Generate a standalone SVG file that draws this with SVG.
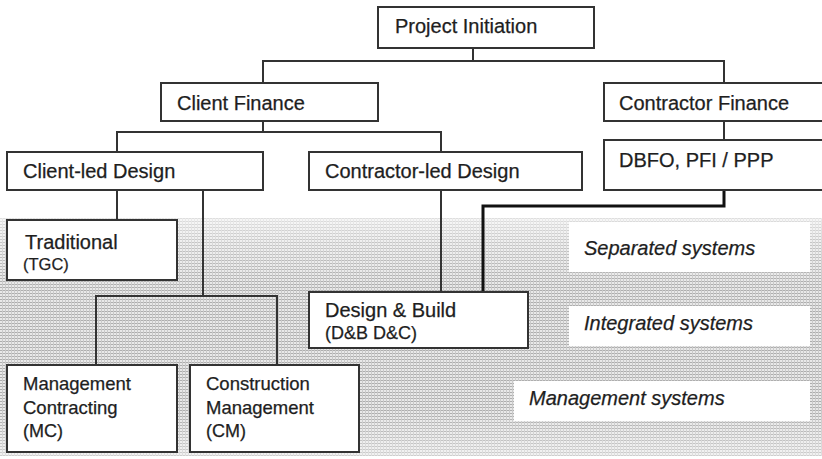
<svg xmlns="http://www.w3.org/2000/svg" width="822" height="459" viewBox="0 0 822 459">
  <defs>
    <!-- fine halftone screen used for the shaded band -->
    <pattern id="screen" width="3" height="3" patternUnits="userSpaceOnUse">
      <rect width="3" height="3" fill="#e9e9e9"/>
      <rect x="0" y="2" width="3" height="1" fill="#aeaeae"/>
      <rect x="2" y="0" width="1" height="3" fill="#cacaca"/>
    </pattern>
    <linearGradient id="fade" x1="0" y1="0" x2="0" y2="1">
      <stop offset="0" stop-color="#fff" stop-opacity="0.6"/>
      <stop offset="0.1" stop-color="#fff" stop-opacity="0.3"/>
      <stop offset="0.28" stop-color="#fff" stop-opacity="0"/>
      <stop offset="0.82" stop-color="#fff" stop-opacity="0"/>
      <stop offset="1" stop-color="#fff" stop-opacity="0.4"/>
    </linearGradient>
  </defs>
  <style>
    .box { fill: #fff; stroke: #333; stroke-width: 2; }
    .lbl { font-family: "Liberation Sans", Arial, sans-serif; font-size: 20px; fill: #1e1e1e; stroke: #1e1e1e; stroke-width: 0.25; }
    .sm { font-size: 18.5px; }
    .sub { font-size: 18px; }
    .sub2 { font-size: 16.5px; }
    .it { font-style: italic; }
    .wire { fill: none; stroke: #333; stroke-width: 2; }
    .wire.bold { stroke: #111; stroke-width: 3; }
    .band-note { fill: #fff; }
  </style>

  <rect width="822" height="459" fill="#fff"/>

  <!-- shaded band behind the procurement systems -->
  <rect x="0" y="218" width="822" height="238" fill="url(#screen)"/>
  <rect x="0" y="218" width="822" height="238" fill="url(#fade)"/>

  <!-- system category captions -->
  <g id="captions">
    <rect class="band-note" x="569" y="222" width="241" height="50"/>
    <text class="lbl it" x="584" y="255">Separated systems</text>
    <rect class="band-note" x="569" y="306" width="241" height="40"/>
    <text class="lbl it" x="584" y="330">Integrated systems</text>
    <rect class="band-note" x="514" y="381" width="296" height="40"/>
    <text class="lbl it" x="529" y="405">Management systems</text>
  </g>

  <g id="connectors">
    <path class="wire" d="M473,48 V61"/>
    <path class="wire" d="M263,83 V61 H724 V83"/>
    <path class="wire" d="M263,121 V132"/>
    <path class="wire" d="M117,152 V132 H441 V152"/>
    <path class="wire" d="M724,121 V140"/>
    <path class="wire bold" d="M724,190 V206 H483 V292"/>
    <path class="wire" d="M441,190 V292"/>
    <path class="wire" d="M117,190 V220"/>
    <path class="wire" d="M203,190 V296"/>
    <path class="wire" d="M96,365 V296 H277 V365"/>
  </g>

  <g id="project-initiation">
    <rect class="box" x="378" y="7" width="216" height="41"/>
    <text class="lbl" x="395" y="33">Project Initiation</text>
  </g>

  <g id="client-finance">
    <rect class="box" x="161" y="83" width="217" height="38"/>
    <text class="lbl" x="177" y="110">Client Finance</text>
  </g>

  <g id="contractor-finance">
    <rect class="box" x="604" y="83" width="230" height="38"/>
    <text class="lbl" x="619" y="110">Contractor Finance</text>
  </g>

  <g id="dbfo-pfi-ppp">
    <rect class="box" x="604" y="140" width="230" height="50"/>
    <text class="lbl" x="619" y="167">DBFO, PFI / PPP</text>
  </g>

  <g id="client-led-design">
    <rect class="box" x="7" y="152" width="256" height="38"/>
    <text class="lbl" x="23" y="178">Client-led Design</text>
  </g>

  <g id="contractor-led-design">
    <rect class="box" x="309" y="152" width="273" height="38"/>
    <text class="lbl" x="325" y="178">Contractor-led Design</text>
  </g>

  <g id="traditional">
    <rect class="box" x="7" y="220" width="170" height="60"/>
    <text class="lbl" x="25" y="249">Traditional</text>
    <text class="lbl sub2" x="23" y="270">(TGC)</text>
  </g>

  <g id="design-build">
    <rect class="box" x="309" y="292" width="219" height="56"/>
    <text class="lbl" x="325" y="317">Design &amp; Build</text>
    <text class="lbl sub" x="325" y="339">(D&amp;B D&amp;C)</text>
  </g>

  <g id="management-contracting">
    <rect class="box" x="7" y="365" width="170" height="87"/>
    <text class="lbl sm" x="23" y="390">Management</text>
    <text class="lbl sm" x="23" y="414">Contracting</text>
    <text class="lbl sub" x="23" y="437">(MC)</text>
  </g>

  <g id="construction-management">
    <rect class="box" x="190" y="365" width="169" height="87"/>
    <text class="lbl sm" x="206" y="390">Construction</text>
    <text class="lbl sm" x="206" y="414">Management</text>
    <text class="lbl sub" x="206" y="437">(CM)</text>
  </g>
</svg>
